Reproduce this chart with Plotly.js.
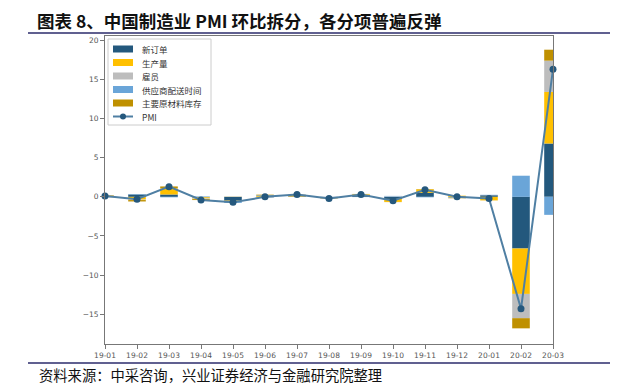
<!DOCTYPE html>
<html><head><meta charset="utf-8">
<script src="https://cdn.plot.ly/plotly-3.0.1.min.js"></script>
<style>html,body{margin:0;padding:0;background:#fff;}#chart{width:637px;height:391px;}</style>
</head><body><div id="chart"></div>
<script>
const months = ["19-01","19-02","19-03","19-04","19-05","19-06","19-07","19-08","19-09","19-10","19-11","19-12","20-01","20-02","20-03"];
const newOrders  = [-0.03, 0.30, 0.30, -0.06, -0.48, -0.06, 0.06, -0.03, 0.24, -0.27, 0.51, -0.03, 0.20, -6.6, 6.8];
const production = [0.03, -0.35, 0.80, -0.15, -0.10, 0.10, 0.20, -0.05, 0.10, -0.38, 0.45, 0.15, -0.45, -5.8, 6.6];
const employment = [-0.04, -0.06, 0.02, -0.08, -0.04, -0.02, 0.04, -0.04, 0.02, 0.06, 0.00, 0.00, 0.02, -3.1, 4.0];
const supplier   = [0.05, 0.05, -0.06, 0.05, -0.15, 0.10, 0.02, -0.03, -0.03, 0.06, -0.06, -0.09, 0.04, 2.7, -2.3];
const inventory  = [0.10, -0.18, 0.21, -0.12, 0.02, 0.08, -0.02, -0.05, 0.01, -0.02, 0.04, -0.06, -0.01, -1.3, 1.4];
const pmiChange  = [0.1, -0.3, 1.3, -0.4, -0.7, 0.0, 0.3, -0.2, 0.3, -0.5, 0.9, 0.0, -0.2, -14.3, 16.3];

const seriesNames = ["新订单","生产量","雇员","供应商配送时间","主要原材料库存"];
const seriesData = [newOrders, production, employment, supplier, inventory];
const seriesColors = ["#23587D","#FFC000","#BDBDBD","#6AA5D8","#BF9000"];
const lineColor = '#4F7FA3', markerColor = '#25587D';

const traces = seriesData.map((d,i)=>({
  type:'bar', x:months, y:d, name:seriesNames[i],
  marker:{color:seriesColors[i], line:{width:0}}, width:0.55
}));
traces.push({
  type:'scatter', mode:'lines+markers', x:months, y:pmiChange, name:'PMI',
  line:{color:lineColor, width:2}, marker:{color:markerColor, size:7},
  cliponaxis:false
});

const W=637,H=391,L=105,R=84,T=36,B=47;
const pw=W-L-R, ph=H-T-B;
const px = v => (v-L)/pw;
const py = v => (H-B-v)/ph;

const shapes = [
  {type:'line', xref:'paper', yref:'paper', x0:px(28), x1:px(610), y0:py(33), y1:py(33), line:{color:'#2B2B6B', width:1.5}},
  {type:'line', xref:'paper', yref:'paper', x0:px(28), x1:px(610), y0:py(363), y1:py(363), line:{color:'#2B2B6B', width:1.5}},
  {type:'rect', xref:'paper', yref:'paper', x0:px(108), x1:px(211), y0:py(39), y1:py(125), fillcolor:'#fff', line:{color:'#ccc', width:1}, layer:'above'}
];
const annotations = [
  {text:'资料来源：中采咨询，兴业证券经济与金融研究院整理', xref:'paper', yref:'paper', x:px(37), y:py(374),
   xanchor:'left', yanchor:'middle', showarrow:false,
   font:{family:'"Noto Sans CJK SC", sans-serif', size:14.3, color:'#111'}}
];
const legNames = seriesNames.concat(['PMI']);
legNames.forEach((n,i)=>{
  const cy = 49 + i*13.5;
  if (i < 5) {
    shapes.push({type:'rect', xref:'paper', yref:'paper', x0:px(113), x1:px(133), y0:py(cy-3.5), y1:py(cy+3.5),
      fillcolor:seriesColors[i], line:{width:0}, layer:'above'});
  } else {
    shapes.push({type:'line', xref:'paper', yref:'paper', x0:px(113), x1:px(133), y0:py(cy), y1:py(cy),
      line:{color:lineColor, width:2}, layer:'above'});
    shapes.push({type:'circle', xref:'paper', yref:'paper', x0:px(120), x1:px(126), y0:py(cy-3), y1:py(cy+3),
      fillcolor:markerColor, line:{width:0}, layer:'above'});
  }
  annotations.push({text:n, xref:'paper', yref:'paper', x:px(140), y:py(cy), xanchor:'left', yanchor:'middle',
    showarrow:false, font:{family:'"Noto Sans CJK SC", sans-serif', size:8.5, color:'#333'}});
});

const layout = {
  width:W, height:H, margin:{l:L,r:R,t:T,b:B},
  paper_bgcolor:'#fff', plot_bgcolor:'#fff',
  barmode:'relative', bargap:0.45,
  font:{family:'"DejaVu Sans", "Noto Sans CJK SC", sans-serif', color:'#555', size:8},
  title:{text:'图表 8、中国制造业 PMI 环比拆分，各分项普遍反弹', x:37/W, xanchor:'left', xref:'container',
    y:1-22/H, yanchor:'middle', yref:'container',
    font:{family:'"Noto Sans CJK SC", sans-serif', size:17.5, color:'#111', weight:'bold'}},
  xaxis:{type:'category', range:[0,14], showgrid:false, zeroline:false,
    showline:true, linecolor:'#777', linewidth:1, mirror:true,
    ticks:'outside', ticklen:4, tickcolor:'#777', tickfont:{size:7.5, color:'#555'}},
  yaxis:{range:[-18.8,20.55], dtick:5, tick0:0, showgrid:false, zeroline:false,
    showline:true, linecolor:'#777', linewidth:1, mirror:true,
    ticks:'outside', ticklen:4, tickcolor:'#777', tickfont:{size:7.5, color:'#555'}},
  showlegend:false,
  shapes:shapes,
  annotations:annotations
};
Plotly.newPlot('chart', traces, layout, {displayModeBar:false, staticPlot:true});
</script></body></html>
